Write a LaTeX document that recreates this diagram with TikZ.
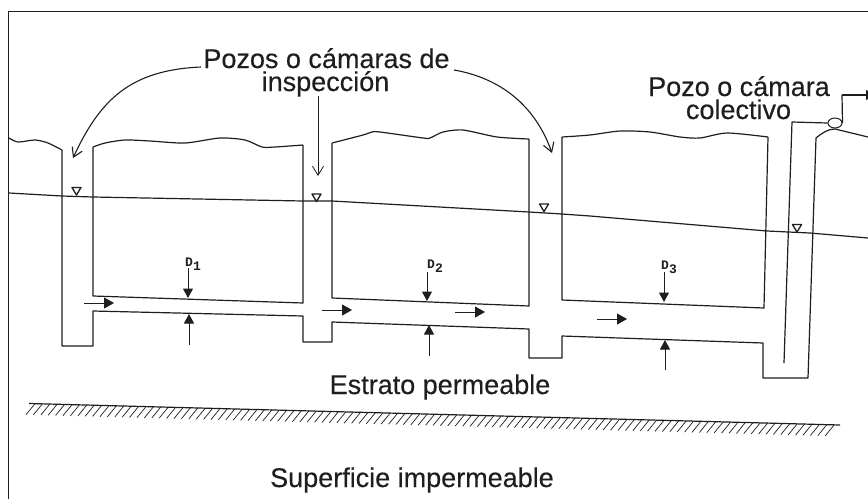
\documentclass[tikz,border=0pt]{standalone}
\usepackage{fontspec}
\setmainfont{Liberation Sans}
\setmonofont{Liberation Mono}
\newfontfamily\lblfont{Liberation Sans}[FakeBold=0.3]
\usetikzlibrary{arrows.meta,shapes.geometric}
\definecolor{ink}{HTML}{1E1E1E}
\newcommand{\lvlmark}[1]{\draw[level] (#1) ++(-4.5,-3.5) -- ++(9,0) -- ++(-4.5,7.5) -- cycle;}
\newcommand{\dtext}[1]{D\raisebox{-4.5pt}{#1}}
\tikzset{
  x=1pt,y=-1pt,
  wall/.style={draw=ink,line width=1.2pt,line join=round},
  wave/.style={smooth,tension=0.45},
  thinline/.style={draw=ink,line width=1pt},
  flow/.style={draw=ink,line width=1pt,-{Triangle[length=10pt,width=11pt]}},
  depth/.style={draw=ink,line width=1pt,-{Triangle[length=9.5pt,width=10pt]}},
  pointer/.style={draw=ink,line width=1.1pt,-{Straight Barb[length=9pt,width=11pt]}},
  label/.style={inner sep=0pt,anchor=base,font=\lblfont\fontsize{27}{27}\selectfont,text=ink},
  dlabel/.style={inner sep=0pt,anchor=base west,font=\fontsize{13}{13}\ttfamily\bfseries,text=ink},
  level/.style={draw=ink,line width=1.3pt,fill=white,line join=round},
}
\begin{document}
\begin{tikzpicture}
\useasboundingbox (0,0) rectangle (868,499);
\fill[white] (0,0) rectangle (868,499);
% frame
\draw[thinline] (8,499) -- (8,11.5) -- (868,11.5);
% texts
\node[label] (pozos) at (326.5,68) {Pozos o cámaras de};
\node[label] (insp) at (325.5,91) {inspección};
\node[label] (colecA) at (739,96) {Pozo o cámara};
\node[label] (colecB) at (738.5,119) {colectivo};
\node[label] (estrato) at (440,394) {Estrato permeable};
\node[label] (sup) at (412,487) {Superficie impermeable};
% ground and trench floor
\draw[wall] plot[wave] coordinates {(9,138) (18,142) (35,140) (48,143) (62,150)};
\draw[wall] (62,150) -- (62,346) -- (93,346) -- (93,311) -- (303,316) -- (303,342) -- (332,342) -- (332,322) -- (529,329) -- (529,358) -- (562,358) -- (562,336) -- (763,343) -- (763,378) -- (808,378) -- (816,138) .. controls (822,133) and (828,129) .. (835,129) -- (868,137);
% blocks
\draw[wall] plot[wave] coordinates {(93,147) (105,143) (125,140) (150,141) (185,143) (220,138) (245,140) (262,147) (275,147) (303,145)};
\draw[wall] (303,145) -- (303,303) -- (93,296) -- (93,147);
\draw[wall] plot[wave] coordinates {(332,143) (363,135) (372,132) (380,132) (423,138) (430,138) (443,132) (463,130) (497,137) (529,139)};
\draw[wall] (529,139) -- (529,306) -- (332,298) -- (332,143);
\draw[wall] plot[wave] coordinates {(562,137) (590,135) (620,131) (650,132) (680,137) (700,138) (727,133) (768,137)};
\draw[wall] (768,137) -- (764,308) -- (562,300) -- (562,137);
% collector
\node[draw=ink,line width=1pt,fill=white,ellipse,minimum width=14pt,minimum height=10pt,inner sep=0pt] (valve) at (835,123) {};
\coordinate (innertop) at (792,122);
\coordinate (innerbot) at (784,363);
\coordinate (outcorner) at (842,95);
\coordinate (outend) at (875,95);
\draw[wall] (innerbot) -- (innertop) -- (valve.west);
\draw[wall] (valve.east) -- (outcorner);
\draw[wall,-{Triangle[length=9pt,width=10pt]}] (outcorner) -- (outend);
% water table
\draw[wall] (9,193) -- (62,196) -- (93,197) -- (303,201) -- (332,201) -- (529,212) -- (562,214) -- (590,216) -- (767,231) -- (810,233) -- (868,238);
\lvlmark{76.5,191}
\lvlmark{316.5,197.5}
\lvlmark{544,207.5}
\lvlmark{797,228}
% flow arrows
\draw[flow] (84,303) -- (114,303);
\draw[flow] (322,310) -- (352,310);
\draw[flow] (455,312) -- (485,312);
\draw[flow] (597,319) -- (627,319);
% depth labels and arrows
\node[dlabel] (done) at (185,266) {\dtext{1}};
\node[dlabel] (dtwo) at (427,268) {\dtext{2}};
\node[dlabel] (dthree) at (661,269) {\dtext{3}};
\draw[depth] (188,268) -- (188,298);
\draw[depth] (189,345) -- (189,314);
\draw[depth] (427,272) -- (427,301);
\draw[depth] (429,356) -- (429,325);
\draw[depth] (664,272) -- (664,302);
\draw[depth] (665,370) -- (665,340);
% pointers
\coordinate (leftstart) at (201,67);
\coordinate (lefttip) at (73,158);
\coordinate (rightstart) at (454,70);
\coordinate (righttip) at (552,153);
\draw[pointer] (leftstart) .. controls (130,70) and (100,100) .. (lefttip);
\draw[pointer] (rightstart) .. controls (500,78) and (535,105) .. (righttip);
\draw[pointer,line width=0.8pt] (318,96) -- (318,176);
% impermeable stratum
\coordinate (hatcha) at (29,403.5);
\coordinate (hatchb) at (840,425);
\draw[wall] (hatcha) -- (hatchb);
\foreach \px in {35,42.4,...,838}{
  \draw[draw=ink,line width=0.7pt] (\px,{403.5+0.0265*(\px-29)}) -- (\px-9,{414.5+0.0265*(\px-29)});
}
\end{tikzpicture}
\end{document}
